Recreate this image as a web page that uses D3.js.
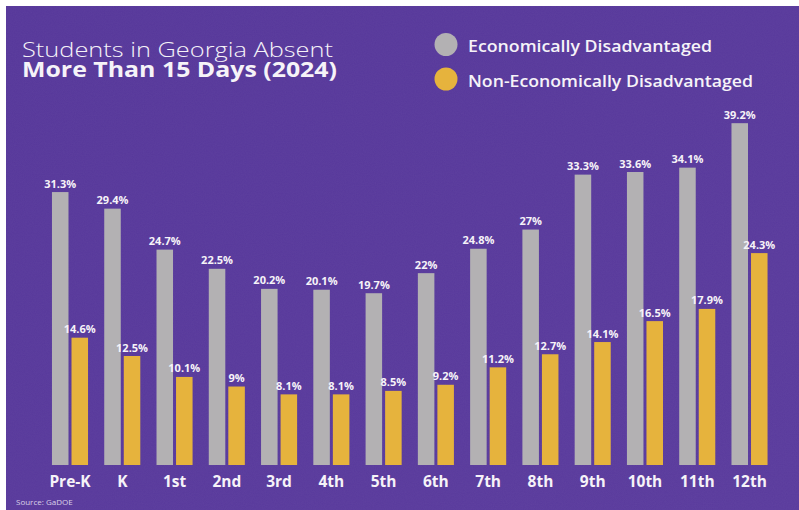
<!DOCTYPE html>
<html>
<head>
<meta charset="utf-8">
<script src="https://cdn.jsdelivr.net/npm/d3@7/dist/d3.min.js"></script>
<style>
  html, body { margin: 0; padding: 0; background: #ffffff; }
  svg { display: block; }
  text { font-family: "Open Sans", "Lato", sans-serif; }
</style>
</head>
<body>
<svg id="chart" width="799" height="510"></svg>
<script>
const grades = ["Pre-K", "K", "1st", "2nd", "3rd", "4th", "5th", "6th", "7th", "8th", "9th", "10th", "11th", "12th"];
const econDisadvantaged = [31.3, 29.4, 24.7, 22.5, 20.2, 20.1, 19.7, 22, 24.8, 27, 33.3, 33.6, 34.1, 39.2];
const nonEconDisadvantaged = [14.6, 12.5, 10.1, 9, 8.1, 8.1, 8.5, 9.2, 11.2, 12.7, 14.1, 16.5, 17.9, 24.3];
const seriesNames = ["Economically Disadvantaged", "Non-Economically Disadvantaged"];
const titleLines = ["Students in Georgia Absent", "More Than 15 Days (2024)"];
const sourceText = "Source: GaDOE";

const colors = { econ: "#b3b1b3", non: "#e6b33d", text: "#f6f3f8" };

const svg = d3.select("#chart");
const W = 799, H = 510;

// background with subtle texture
const defs = svg.append("defs");
const filt = defs.append("filter").attr("id", "grain").attr("x", 0).attr("y", 0).attr("width", "100%").attr("height", "100%");
filt.append("feTurbulence").attr("type", "fractalNoise").attr("baseFrequency", 0.9).attr("numOctaves", 2).attr("seed", 3).attr("result", "n");
filt.append("feColorMatrix").attr("type", "matrix")
  .attr("values", "0 0 0 0 1  0 0 0 0 1  0 0 0 0 1  0 0 0 0.035 0");
const grad = defs.append("linearGradient").attr("id", "bgGrad").attr("x1", 0).attr("y1", 0).attr("x2", 1).attr("y2", 1);
grad.append("stop").attr("offset", 0).attr("stop-color", "#56379a");
grad.append("stop").attr("offset", 1).attr("stop-color", "#5a3b9d");

svg.append("rect").attr("x", 6).attr("y", 6).attr("width", W - 6).attr("height", H - 6).attr("fill", "url(#bgGrad)");
svg.append("rect").attr("x", 6).attr("y", 6).attr("width", W - 6).attr("height", H - 6).attr("filter", "url(#grain)");

// scales
const step = 52.27;
const x = d3.scaleBand().domain(grades)
  .range([70 - step / 2, 70 - step / 2 + step * grades.length])
  .paddingInner(0.31).paddingOuter(0.155);
const xs = d3.scaleBand().domain(["econ", "non"]).range([0, x.bandwidth()]).paddingInner(0.154);
const y = d3.scaleLinear().domain([0, 40]).range([465, 465 - 8.72 * 40]);

const data = grades.map((g, i) => ({ g, econ: econDisadvantaged[i], non: nonEconDisadvantaged[i] }));

const groups = svg.append("g").selectAll("g").data(data).join("g")
  .attr("transform", d => `translate(${x(d.g)},0)`);

["econ", "non"].forEach(k => {
  groups.append("rect")
    .attr("x", xs(k))
    .attr("y", d => y(d[k]))
    .attr("width", xs.bandwidth())
    .attr("height", d => y(0) - y(d[k]))
    .attr("fill", colors[k]);
  groups.append("text")
    .attr("x", xs(k) + xs.bandwidth() / 2)
    .attr("y", d => y(d[k]) - 4.5)
    .attr("text-anchor", "middle")
    .attr("fill", colors.text)
    .attr("font-size", 11)
    .attr("font-weight", 700)
    .text(d => d[k] + "%");
});

// category axis labels
const xAxis = d3.axisBottom(x).tickSize(0).tickPadding(0);
const ax = svg.append("g").attr("transform", `translate(0,${y(0)})`).call(xAxis);
ax.select(".domain").remove();
ax.selectAll("text")
  .attr("y", 22)
  .attr("dy", 0)
  .attr("fill", colors.text)
  .attr("font-size", 15.5)
  .attr("font-weight", 700)
  .style("font-family", "'Open Sans', 'Lato', sans-serif");

// title
svg.append("text").attr("x", 22).attr("y", 56.5)
  .attr("fill", colors.text).attr("font-size", 21).attr("font-weight", 300)
  .attr("textLength", 311).attr("lengthAdjust", "spacingAndGlyphs")
  .text(titleLines[0]);
svg.append("text").attr("x", 22).attr("y", 77)
  .attr("fill", colors.text).attr("font-size", 20.5).attr("font-weight", 700)
  .attr("textLength", 315).attr("lengthAdjust", "spacingAndGlyphs")
  .text(titleLines[1]);

// legend
const legend = [
  { name: seriesNames[0], color: colors.econ, cy: 44.5, by: 52, len: 244 },
  { name: seriesNames[1], color: colors.non, cy: 79, by: 87, len: 285 }
];
legend.forEach(l => {
  svg.append("circle").attr("cx", 446).attr("cy", l.cy).attr("r", 11.5).attr("fill", l.color);
  svg.append("text").attr("x", 468).attr("y", l.by)
    .attr("fill", colors.text).attr("font-size", 17).attr("font-weight", 600)
    .attr("textLength", l.len).attr("lengthAdjust", "spacingAndGlyphs")
    .text(l.name);
});

// source
svg.append("text").attr("x", 16).attr("y", 505)
  .attr("fill", "#d9d1e8").attr("font-size", 8).attr("font-weight", 400)
  .text(sourceText);
</script>
</body>
</html>
